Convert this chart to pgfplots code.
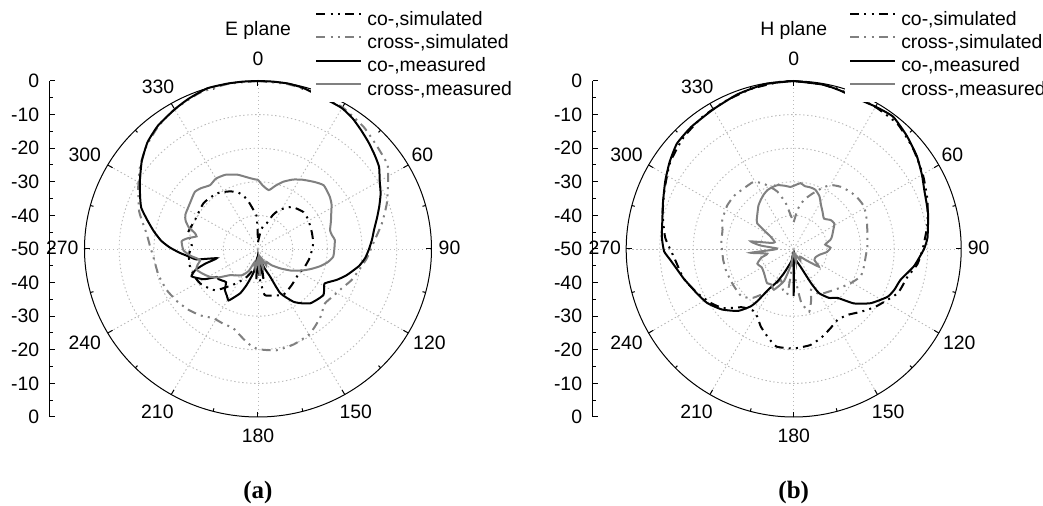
\documentclass[border=0pt]{standalone}
\usepackage{pgfplots}
\pgfplotsset{compat=1.18}
\usepackage{pgfplotstable}
\usepackage{fontspec}
\setmainfont{Liberation Sans}
\newfontfamily\capfont{Liberation Serif}

\definecolor{curvegray}{RGB}{128,128,128}
\definecolor{gridgray}{RGB}{185,185,185}
\newcommand{\lbl}{\fontsize{9.7}{11.6}\selectfont}

% ---------------- E plane ----------------
\pgfplotstableread{
ang db
0 -48
4 -47
8 -45
12 -43
18 -42
23 -39
28 -36.8
38 -34.1
50 -32.9
59 -33.1
72 -33.7
84 -34
99 -34.8
111 -35.5
126 -36.1
138 -35.5
152 -34.5
162 -35.5
172 -36.2
178 -42
185 -47
193 -43.6
203 -40.5
214 -37.2
225 -32.6
237 -30.6
245 -30
255 -29.7
265 -30
273 -30.9
284 -29.3
295 -29.9
311 -29.2
324 -29.6
333 -30.8
340 -31.9
345 -33.5
349 -35.6
353 -38
358 -40.4
360 -48
}\EcoSim

\pgfplotstableread{
ang db
0 0
10 -0.2
20 -0.6
30 -1.3
40 -2.6
48 -4
56 -5
62 -7.5
70 -10.5
78 -13.5
87 -16.7
95 -18.5
102 -20.2
109 -21.5
116 -23.2
123 -24.2
130 -24.8
138 -23
144 -21.8
150 -20.6
160 -19.8
170 -19.4
180 -20.2
186 -21.8
192 -24
197 -25.4
204 -25.6
212 -25.7
220 -24.2
228 -23
236 -22
245 -21
255 -20.3
266 -19.7
272 -18.8
278 -17.6
288 -14
298 -10.9
306 -8
314 -5.5
322 -3.5
330 -2
340 -0.6
350 -0.1
360 0
}\ExSim

\pgfplotstableread{
ang db
0 0
5 0
10 0
15 -0.3
20 -1
25 -1.4
30 -1.6
35 -2.5
40 -3.8
45 -5
50 -6.2
55 -7.4
60 -9.5
65 -11
70 -12.8
75 -14.5
80 -16
85 -17
90 -18
95 -19
100 -20.5
107 -23.3
112 -25.5
118 -28.2
122 -27.5
126 -26.7
131 -27.2
137 -27.9
142 -29.5
147 -31.3
154 -35.4
157 -41.1
162 -44
166 -46
170 -41
174 -47
177 -42
180 -48
183 -41
186 -47
190 -43
197 -38.8
201 -36
205 -34.3
209 -32.5
213 -33.5
218 -34.5
223 -36.5
228 -36
232 -35.5
235 -35.5
240 -32
247 -29.2
251 -31
254 -34.2
257 -37.8
260 -32
263 -30.3
267 -27.5
271 -24.6
275 -22
280 -19.5
285 -17
290 -14.2
295 -12.5
301 -10.3
308 -7.5
315 -5
322 -3.3
330 -2
336 -1
343 0
350 0
355 0
360 0
}\EcoMeas

\pgfplotstableread{
ang db
0 -29.4
4 -31
10 -32.2
15 -30.5
20 -28.7
26 -27
32 -25.7
39 -24.3
45 -23.2
53 -24.1
58 -25
63 -26.3
69 -27.5
75 -28.5
79 -28.3
83 -27.7
90 -28
96 -28.2
101 -29.5
106 -31.4
111 -33.5
116 -35.5
124 -38.5
132 -41.4
141 -43.8
148 -45.5
154 -44.5
160 -47
166 -43.5
171 -48
176 -42
181 -47
187 -44
194 -46
202 -43
210 -41
218 -40
226 -38.8
233 -36
239 -33.9
245 -32.5
251 -31.2
255 -32
259 -33
264 -30.5
269 -28.5
276 -27.9
279 -29.5
282 -31.9
285 -31
288 -29
292 -27.5
296 -26.7
305 -26.1
313 -25.1
318 -25.6
324 -26.5
330 -25.8
337 -26
345 -27.1
352 -28.5
357 -29.2
360 -29.4
}\ExMeas

% ---------------- H plane ----------------
\pgfplotstableread{
ang db
0 0
10 -0.3
20 -0.9
30 -1.2
40 -1.6
50 -3.5
60 -5.5
70 -7.5
80 -9.5
90 -11.5
97 -12.8
104 -15.1
113 -16.3
125 -20.1
133 -22.6
140 -24.5
148 -25.2
155 -24
162 -22.5
170 -21
180 -20.4
190 -20.5
196 -22.5
203 -24.9
208 -27
213 -28
218 -27.5
222 -26.7
230 -22.6
237 -20.5
245 -18.5
255 -16
266 -14.2
275 -11.5
285 -9.5
295 -7.5
305 -5
315 -3.3
325 -2.2
335 -1.5
345 -0.7
355 -0.1
360 0
}\HcoSim

\pgfplotstableread{
ang db
0 -42
6 -38
12 -35
19 -32.5
25 -30
30 -28
37 -26.8
45 -26
52 -25.6
59 -25.5
68 -26.5
78 -27.5
88 -28
96 -28.4
104 -28.4
112 -28.4
120 -30
130 -32
140 -33.5
150 -34.5
157 -36.8
161 -34
166 -30.8
172 -34
178 -42
183 -46
188 -36.5
195 -37.5
203 -40
212 -35
220 -31
228 -29
238 -29
244 -29
252 -28.8
261 -28.7
266 -28.7
275 -28.3
285 -28
292 -27
303 -26.3
312 -26.2
320 -26.6
329 -26.7
335 -28.5
340 -30.6
344 -32.2
350 -36
355 -40
360 -42
}\HxSim

\pgfplotstableread{
ang db
0 0
10 -0.3
16 -0.8
24 -1.4
30 -1.1
37 -0.7
45 -2.3
53 -4
60 -5.8
66 -7.3
75 -8.5
85 -9.9
90 -11.1
98 -13.7
106 -16.8
112 -17.6
117 -18.6
125 -21.9
132 -25.8
138 -30.4
144 -32
150 -34.8
153 -38.6
159 -44.4
165 -46
170 -47
176 -48.5
180 -36
184 -48.5
190 -46.5
196 -45
202 -42.2
207 -39
212 -35.8
215 -31
217 -28.6
222 -25.2
230 -22
238 -19.6
245 -18.3
250 -17.3
255 -16
260 -14.7
265 -13
269 -11.3
275 -10.5
282 -9.9
290 -8.5
298 -6.6
305 -4.8
312 -3.1
320 -2.5
330 -2
340 -1
350 -0.2
360 0
}\HcoMeas

\pgfplotstableread{
ang db
0 -31.2
6 -30.3
10 -31
15 -31
20 -31.2
26 -32.5
32 -34.6
38 -36
45 -37.2
52 -36
58 -35.7
65 -37
72 -38
76 -38.7
82 -40.5
88 -39
95 -40
102 -42
110 -43
118 -43
125 -40.8
132 -45
140 -47
150 -46
160 -48
170 -46
180 -49
190 -45
197 -40
206 -36.5
212 -37.5
218 -37.1
225 -38
231 -38.6
240 -39
248 -38.3
255 -40
260 -42
265 -37.1
268 -44
272 -45
276 -40
280 -37
285 -43
290 -44
298 -42.2
305 -36.7
311 -35.5
316 -34.5
321 -33.3
326 -32.4
331 -31.5
336 -30.8
341 -30.5
346 -30.4
352 -31
357 -31.5
360 -31.2
}\HxMeas

\tikzset{
  gridline/.style={gridgray, line width=0.45pt, dash pattern=on 0.7pt off 1.3pt},
  dialline/.style={black, line width=0.5pt},
}

\pgfplotsset{
  table/polar/.style={
    x expr={(\thisrow{db}+50)*sin(\thisrow{ang})},
    y expr={(\thisrow{db}+50)*cos(\thisrow{ang})}},
  cosim/.style={black, line width=1pt, smooth, tension=0.3,
    dash pattern=on 4.5pt off 2.6pt on 1pt off 2.6pt on 1pt off 2.6pt},
  xsim/.style={curvegray, line width=1pt, smooth, tension=0.3,
    dash pattern=on 4.5pt off 2.6pt on 1pt off 2.6pt on 1pt off 2.6pt},
  comeas/.style={black, line width=1pt, smooth, tension=0.3},
  xmeas/.style={curvegray, line width=1pt, smooth, tension=0.3},
  patternaxis/.style={
    scale only axis, height=168pt, anchor=south west,
    xmin=-60, xmax=50, ymin=-50, ymax=50,
    axis x line=none, axis y line*=left, xtick=\empty,
    ytick={-50,-40,...,50},
    yticklabels={0,-10,-20,-30,-40,-50,-40,-30,-20,-10,0},
    minor y tick num=1,
    major tick length=2.5pt, minor tick length=1.5pt,
    tick align=inside,
    y axis line style={line width=0.5pt},
    every tick/.style={line width=0.5pt, black},
    yticklabel style={font=\lbl, xshift=-1.8pt},
    clip=false,
    legend cell align=left,
    legend image code/.code={\draw[##1] (0pt,3pt) -- (22.5pt,3pt); \path (23.75pt,3pt);},
    legend style={at={(0.6843,1.2188)}, anchor=north west, fill=white,
      draw=none, font=\lbl, inner xsep=2pt, inner ysep=1pt, row sep=1.45pt,
      nodes={inner xsep=1.25pt, inner ysep=0.5pt, text height=7.2pt, text depth=2pt}},
  },
}

% angle labels, placed in axis units around the dial
\newcommand{\anglelabels}{%
  \node at (axis cs:0,56.5) {0};
  \node at (axis cs:-28.8,48.2) {330};
  \node at (axis cs:-49.9,28.0) {300};
  \node at (axis cs:-56.4,0.3) {270};
  \node at (axis cs:-49.9,-27.9) {240};
  \node at (axis cs:-29.0,-48.4) {210};
  \node at (axis cs:0,-55.7) {180};
  \node at (axis cs:28.2,-48.4) {150};
  \node at (axis cs:49.4,-27.8) {120};
  \node at (axis cs:55.2,0.3) {90};
  \node at (axis cs:47.4,28.0) {60};
}
% radial spokes and dial ticks
\newcommand{\dialticks}{%
  \pgfplotsinvokeforeach{0,30,...,330}{%
    \draw[gridline] (axis cs:0,0) -- (axis cs:{50*sin(##1)},{50*cos(##1)});
    \draw[dialline] (axis cs:{50*sin(##1)},{50*cos(##1)}) -- (axis cs:{48.4*sin(##1)},{48.4*cos(##1)});}
  \pgfplotsinvokeforeach{15,45,...,345}{%
    \draw[dialline] (axis cs:{50*sin(##1)},{50*cos(##1)}) -- (axis cs:{49.1*sin(##1)},{49.1*cos(##1)});}
}

\begin{document}
\begin{tikzpicture}[font=\lbl]
\path[use as bounding box] (0,0) rectangle (521.5pt,-253pt);

% ---------- (a) E plane ----------
\begin{axis}[patternaxis, at={(24.9pt,-208.5pt)}, width=190.85pt]
  \pgfplotsinvokeforeach{10,20,30,40}{%
    \draw[gridline] (axis cs:0,0) ellipse[x radius=#1*1.735pt, y radius=#1*1.68pt];}
  \dialticks
  \draw[dialline] (axis cs:0,0) ellipse[x radius=86.75pt, y radius=84pt];
  \anglelabels
  \addplot[cosim] table[polar] {\EcoSim};
  \addlegendentry{co-,simulated}
  \addplot[xsim] table[polar] {\ExSim};
  \addlegendentry{cross-,simulated}
  \addplot[comeas] table[polar] {\EcoMeas};
  \addlegendentry{co-,measured}
  \addplot[xmeas] table[polar] {\ExMeas};
  \addlegendentry{cross-,measured}
  \node at (axis cs:0,64.9) {E plane};
  \node at (axis cs:0,-72.6) {\capfont\bfseries\fontsize{12.5}{14}\selectfont (a)};
\end{axis}

% ---------- (b) H plane ----------
\begin{axis}[patternaxis, at={(296.35pt,-208.5pt)}, width=184.25pt]
  \pgfplotsinvokeforeach{10,20,30,40}{%
    \draw[gridline] (axis cs:0,0) ellipse[x radius=#1*1.675pt, y radius=#1*1.68pt];}
  \dialticks
  \draw[dialline] (axis cs:0,0) ellipse[x radius=83.75pt, y radius=84pt];
  \anglelabels
  \addplot[cosim] table[polar] {\HcoSim};
  \addlegendentry{co-,simulated}
  \addplot[xsim] table[polar] {\HxSim};
  \addlegendentry{cross-,simulated}
  \addplot[comeas] table[polar] {\HcoMeas};
  \addlegendentry{co-,measured}
  \addplot[xmeas] table[polar] {\HxMeas};
  \addlegendentry{cross-,measured}
  \node at (axis cs:0,64.9) {H plane};
  \node at (axis cs:0,-72.6) {\capfont\bfseries\fontsize{12.5}{14}\selectfont (b)};
\end{axis}
\end{tikzpicture}
\end{document}
